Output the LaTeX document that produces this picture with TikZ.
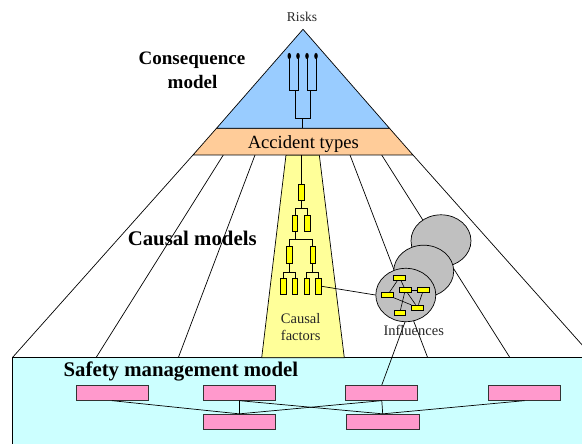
\documentclass[tikz,border=0pt]{standalone}
\usepackage{fontspec}
\setmainfont{Liberation Serif}
\usetikzlibrary{shapes.geometric}
\definecolor{riskblue}{HTML}{99CCFF}
\definecolor{accorange}{HTML}{FFCC99}
\definecolor{factoryellow}{HTML}{FFFF99}
\definecolor{mgmtcyan}{HTML}{CCFFFF}
\definecolor{mgmtpink}{HTML}{FF99CC}
\definecolor{inflgray}{HTML}{C0C0C0}
\definecolor{rectyellow}{HTML}{FFFF00}
\begin{document}
\begin{tikzpicture}[x=1pt,y=-1pt,line width=0.7pt,
  title/.style={font=\bfseries\fontsize{20}{24}\selectfont,inner sep=0,anchor=base},
  smalltext/.style={font=\fontsize{14.5}{17}\selectfont,text=black!85,inner sep=0,anchor=base},
  pinkbox/.style={draw=black!80,fill=mgmtpink,minimum width=72,minimum height=15,inner sep=0},
  factor/.style={draw,fill=rectyellow,minimum width=5.5,minimum height=15.5,inner sep=0,line width=0.9pt},
  infl/.style={draw,fill=rectyellow,minimum width=11.8,minimum height=5,inner sep=0,line width=0.6pt},
  bubble/.style={ellipse,draw,fill=inflgray,minimum width=60,minimum height=52,inner sep=0},
  riskdot/.style={ellipse,fill=black,minimum width=3.6,minimum height=6.2,inner sep=0}]
\clip (0,0) rectangle (582,444);

% safety management layer
\draw[fill=mgmtcyan] (12.3,357.7) rectangle (600,460);

% fan of causal model strips
\coordinate (s1t) at (193,155);   \coordinate (s1b) at (12.3,357.7);
\coordinate (s2t) at (223.3,155); \coordinate (s2b) at (96,357.7);
\coordinate (s3t) at (255,155);   \coordinate (s3b) at (178.3,357.7);
\coordinate (s5t) at (350,155);   \coordinate (s5b) at (427.7,357.7);
\coordinate (s6t) at (381.7,155); \coordinate (s6b) at (510,357.7);
\coordinate (s7t) at (413,155);   \coordinate (s7b) at (593.5,357.7);
\foreach \i in {1,2,3,5,6,7} \draw (s\i t) -- (s\i b);

% causal factors strip
\draw[fill=factoryellow] (286,155) -- (319.3,155) -- (344.3,357.7) -- (261.7,357.7) -- cycle;

% accident types band and consequence triangle
\draw[fill=accorange] (216.5,128.3) -- (389.5,128.3) -- (413,155) -- (193,155) -- cycle;
\draw[fill=riskblue] (303,29.3) -- (389.5,128.3) -- (216.5,128.3) -- cycle;

% consequence tree
\node[riskdot] (d1) at (289.3,56) {};
\node[riskdot] (d2) at (298,56) {};
\node[riskdot] (d3) at (307,56) {};
\node[riskdot] (d4) at (316,56) {};
\coordinate (jl) at (295.5,90.7);
\coordinate (jr) at (310,90.7);
\coordinate (jb) at (302.7,118.3);
\coordinate (stem) at (302.7,128.3);
\draw (d1.center) |- (jl) -| (d2.center);
\draw (d3.center) |- (jr) -| (d4.center);
\draw (jl) |- (jb) -| (jr);
\draw (jb) -- (stem);

% causal factor tree
\coordinate (ft) at (301.2,155);
\node[factor] (f0) at (301.2,192.2) {};
\node[factor] (f1) at (295,223.3) {};
\node[factor] (f2) at (307.2,223.3) {};
\node[factor,minimum height=16.6] (f3) at (289.5,255) {};
\node[factor,minimum height=16.6] (f4) at (312.8,255) {};
\node[factor,minimum height=16] (f5) at (283.3,286.3) {};
\node[factor,minimum height=16] (f6) at (295,286.3) {};
\node[factor,minimum height=16] (f7) at (306.7,286.3) {};
\node[factor,minimum height=16] (f8) at (318.5,286.3) {};
\begin{scope}[line width=0.9pt]
\draw (ft) -- (f0.north);
\draw (f0.south) -- ++(0,8.3) coordinate (j0);
\draw (f1.north) |- (j0) -| (f2.north);
\draw (f1.south) -- ++(0,8.3) coordinate (j1);
\draw (f3.north) |- (j1) -| (f4.north);
\draw (f3.south) -- ++(0,8.4) coordinate (j2);
\draw (f5.north) |- (j2) -| (f6.north);
\draw (f4.south) -- ++(0,8.4) coordinate (j3);
\draw (f7.north) |- (j3) -| (f8.north);
\end{scope}

% safety management boxes
\node[pinkbox] (m1) at (112,392.8) {};
\node[pinkbox] (m2) at (239.2,392.8) {};
\node[pinkbox] (m3) at (381.8,392.8) {};
\node[pinkbox] (m4) at (524.5,392.8) {};
\node[pinkbox] (m5) at (239.2,421.7) {};
\node[pinkbox,minimum width=73.3] (m6) at (382.7,421.7) {};
\draw (m1.south) -- (m5.north);
\draw (m2.south) -- (m5.north);
\draw (m2.south) -- (m6.north);
\draw (m3.south) -- (m5.north);
\draw (m3.south) -- (m6.north);
\draw (m4.south) -- (m6.north);

% link from management to influence model
\coordinate (bt) at (409.4,310);
\draw (m3.north) -- (bt);

% stacked influence models
\node[bubble] (b3) at (441,240.8) {};
\node[bubble] (b2) at (423.7,271.2) {};
\node[bubble,minimum height=53.4] (b1) at (405.8,295) {};
\draw (f8.east) -- (b1.west);

\node[infl] (i1) at (399.5,277.5) {};
\node[infl] (i2) at (387.5,295.2) {};
\node[infl] (i3) at (405.3,289.8) {};
\node[infl] (i4) at (423.5,289.8) {};
\node[infl] (i5) at (417.5,307.4) {};
\node[infl] (i6) at (399.7,313.2) {};
\begin{scope}[line width=0.6pt]
\draw (i1) -- (i2);
\draw (i1) -- (i3);
\draw (i3) -- (i4);
\draw (i4) -- (i5);
\draw (i2) -- (i5);
\draw (i3) -- (i6);
\draw (i3) -- (i5);
\end{scope}

% labels
\node[smalltext,font=\fontsize{13.5}{16}\selectfont] (risks) at (302,21.7) {Risks};
\node[inner sep=0,anchor=base,font=\fontsize{18.6}{22}\selectfont] (acc) at (303.3,149) {Accident types};
\node[title,font=\bfseries\fontsize{19}{23}\selectfont] (cons) at (192,65) {Consequence};
\node[title,font=\bfseries\fontsize{19}{23}\selectfont] (consb) at (192.5,88.3) {model};
\node[title,font=\bfseries\fontsize{20.8}{25}\selectfont] (causal) at (192.2,245) {Causal models};
\node[smalltext] (cf1) at (300.7,323) {Causal};
\node[smalltext] (cf2) at (300.7,340) {factors};
\node[smalltext] (inf) at (413.7,335) {Influences};
\node[title,anchor=base west,font=\bfseries\fontsize{20.8}{25}\selectfont] (smm) at (63.3,376.7) {Safety management model};
\end{tikzpicture}
\end{document}
